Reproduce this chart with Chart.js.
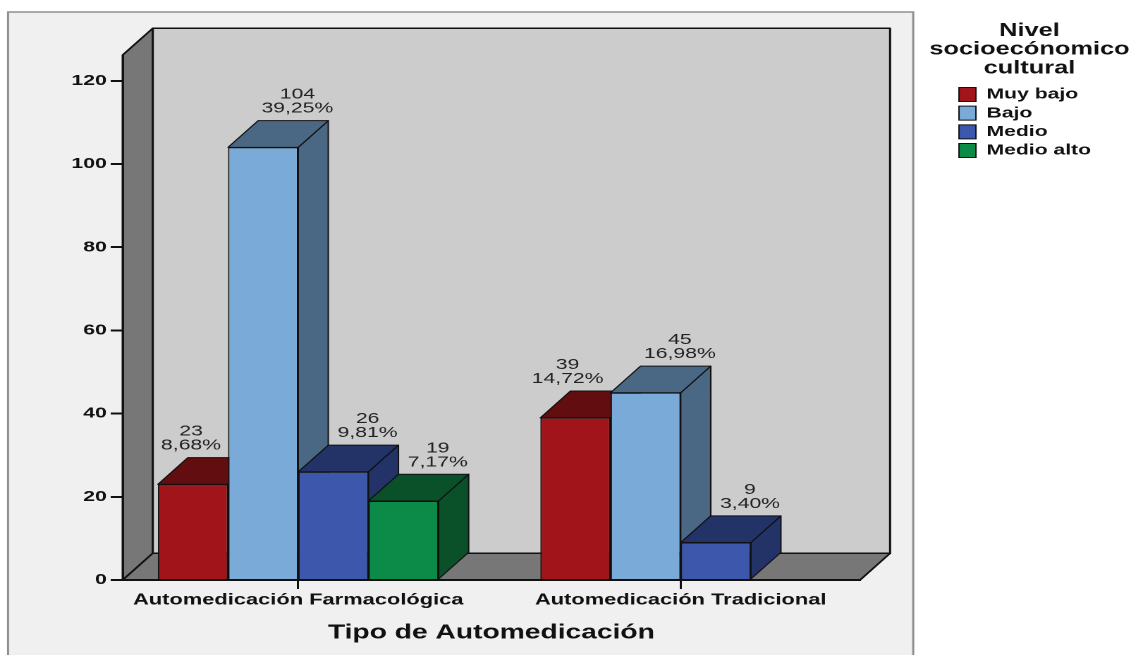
<!DOCTYPE html>
<html>
<head>
<meta charset="utf-8">
<script src="https://cdn.jsdelivr.net/npm/chart.js@4.4.1/dist/chart.umd.min.js"></script>
<style>
html,body{margin:0;padding:0;background:#fff;overflow:hidden;}
#wrap{position:absolute;left:0;top:0;width:802px;height:655px;transform:scaleX(1.41022);transform-origin:0 0;}
</style>
</head>
<body>
<div id="wrap"><canvas id="c"></canvas></div>
<script>
// ---- data ----
const categories = ['Automedicación Farmacológica', 'Automedicación Tradicional'];
const seriesNames = ['Muy bajo', 'Bajo', 'Medio', 'Medio alto'];
const muyBajo = [23, 39];
const bajo = [104, 45];
const medio = [26, 9];
const medioAlto = [19, null];
const yTicks = [0, 20, 40, 60, 80, 100, 120];
const legendTitle = ['Nivel', 'socioecónomico', 'cultural'];
const xTitle = 'Tipo de Automedicación';

// ---- style ----
const frontColors = ['#a11419', '#7aaad8', '#3d57ad', '#0c8a47'];
const sideColors = ['#620d10', '#4a6884', '#233368', '#0a5129'];
const DX = 21.3, DY = 26.7;
const FONT = "'Liberation Sans', Arial, sans-serif";
Chart.defaults.font.family = FONT;
Chart.defaults.color = '#111';

const seriesValues = [muyBajo, bajo, medio, medioAlto];
const total = seriesValues.flat().filter(v => v != null).reduce((s, v) => s + v, 0);
const pct = v => (v / total * 100).toFixed(2).replace('.', ',') + '%';

function poly(ctx, pts, fill) {
  ctx.beginPath();
  ctx.moveTo(pts[0][0], pts[0][1]);
  for (let k = 1; k < pts.length; k++) ctx.lineTo(pts[k][0], pts[k][1]);
  ctx.closePath();
  ctx.fillStyle = fill;
  ctx.fill();
  ctx.stroke();
}

const threeD = {
  id: 'threeD',
  afterLayout(chart) {
    const lg = chart.legend;
    if (lg && !lg._noClip) {
      lg.draw = function () { if (this.options.display) this._draw(); };
      lg._noClip = true;
    }
  },
  beforeDraw(chart) {
    const {ctx, chartArea: a} = chart;
    ctx.save();
    const pl = a.left - 81.3, pr = a.right + 37.7, pt = a.top - 43;
    ctx.fillStyle = '#f0f0f0';
    ctx.fillRect(pl, pt, pr - pl, chart.height - pt + 10);
    ctx.strokeStyle = '#8f8f8f';
    ctx.lineWidth = 1.5;
    ctx.strokeRect(pl, pt, pr - pl, chart.height - pt + 10);
    ctx.lineJoin = 'round';
    ctx.strokeStyle = '#111';
    ctx.lineWidth = 1.5;
    poly(ctx, [[a.left + DX, a.top - DY], [a.right + DX, a.top - DY], [a.right + DX, a.bottom - DY], [a.left + DX, a.bottom - DY]], '#cccccc');
    poly(ctx, [[a.left, a.bottom], [a.left, a.top], [a.left + DX, a.top - DY], [a.left + DX, a.bottom - DY]], '#777777');
    poly(ctx, [[a.left, a.bottom], [a.left + DX, a.bottom - DY], [a.right + DX, a.bottom - DY], [a.right, a.bottom]], '#777777');
    ctx.restore();
  },
  beforeDatasetsDraw(chart) {
    const {ctx} = chart;
    const bars = [];
    chart.data.datasets.forEach((ds, i) => {
      const meta = chart.getDatasetMeta(i);
      if (meta.hidden) return;
      meta.data.forEach((el, j) => {
        const v = ds.data[j] && ds.data[j].y;
        if (v == null) return;
        bars.push({p: el.getProps(['x', 'y', 'base', 'width'], true), i});
      });
    });
    bars.sort((m, n) => m.p.x - n.p.x);
    ctx.save();
    ctx.strokeStyle = '#111';
    ctx.lineWidth = 1;
    ctx.lineJoin = 'round';
    for (const b of bars) {
      const {x, y, base, width} = b.p;
      const l = x - width / 2, r = x + width / 2;
      poly(ctx, [[r, y], [r + DX, y - DY], [r + DX, base - DY], [r, base]], sideColors[b.i]);
      poly(ctx, [[l, y], [l + DX, y - DY], [r + DX, y - DY], [r, y]], sideColors[b.i]);
    }
    ctx.restore();
  },
  afterDatasetsDraw(chart) {
    const {ctx} = chart;
    ctx.save();
    ctx.font = '15px ' + FONT;
    ctx.fillStyle = '#222';
    ctx.textAlign = 'center';
    ctx.textBaseline = 'alphabetic';
    chart.data.datasets.forEach((ds, i) => {
      const meta = chart.getDatasetMeta(i);
      meta.data.forEach((el, j) => {
        const v = ds.data[j] && ds.data[j].y;
        if (v == null) return;
        const p = el.getProps(['x', 'y', 'width'], true);
        const lines = [String(v), pct(v)];
        const w = Math.max(...lines.map(t => ctx.measureText(t).width));
        const b2 = p.y - DY - 8;
        const b1 = b2 - 14;
        let cx = p.x + DX + 3;
        const nds = chart.data.datasets[i + 1];
        if (nds && nds.data[j] && nds.data[j].y != null) {
          const np = chart.getDatasetMeta(i + 1).data[j].getProps(['x', 'y', 'width'], true);
          if (np.y - DY < b2) {
            const limit = np.x - np.width / 2 - 5;
            if (cx + w / 2 > limit) cx = limit - w / 2;
          }
        }
        ctx.fillText(lines[0], cx, b1);
        ctx.fillText(lines[1], cx, b2);
      });
    });
    ctx.restore();
  }
};

const datasets = seriesNames.map((name, i) => ({
  label: name,
  data: seriesValues[i].map((v, j) => ({x: j, y: v})),
  backgroundColor: frontColors[i],
  borderColor: '#111',
  borderWidth: 1
}));

new Chart(document.getElementById('c'), {
  type: 'bar',
  data: {datasets},
  plugins: [threeD],
  options: {
    responsive: true,
    maintainAspectRatio: false,
    animation: false,
    devicePixelRatio: 2,
    layout: {padding: {left: 40, top: 12, right: 18.3, bottom: 10}},
    datasets: {bar: {categoryPercentage: 0.734, barPercentage: 1}},
    plugins: {
      tooltip: {enabled: false},
      legend: {
        position: 'right',
        align: 'start',
        title: {display: true, text: legendTitle, color: '#111', font: {size: 18, weight: 'bold', lineHeight: 1.04}, padding: {top: 10, bottom: 42.6}},
        labels: {boxWidth: 12, boxHeight: 14, padding: 3.67, color: '#111', font: {size: 15, weight: 'bold'}}
      }
    },
    scales: {
      x: {
        type: 'linear', position: 'bottom', min: -0.459, max: 1.469,
        offset: false, bounds: 'data',
        afterBuildTicks: s => { s.ticks = categories.map((c, k) => ({value: k})); },
        ticks: {callback: v => categories[v] ?? '', font: {size: 15.5, weight: 'bold'}, color: '#111', padding: 2, autoSkip: false, maxRotation: 0},
        grid: {offset: false, drawOnChartArea: false, drawTicks: true, tickLength: 9, color: '#111', lineWidth: 1.5},
        border: {display: true, color: '#111', width: 2},
        title: {display: true, text: xTitle, font: {size: 20, weight: 'bold'}, color: '#111', padding: {top: 0, bottom: 0}},
        afterFit: s => { s.height = 65; }
      },
      y: {
        min: 0, max: 126.2,
        afterBuildTicks: s => { s.ticks = yTicks.map(v => ({value: v})); },
        ticks: {font: {size: 15, weight: 'bold'}, color: '#111', padding: 2.8},
        grid: {drawOnChartArea: false, drawTicks: true, tickLength: 8.5, color: '#111', lineWidth: 2},
        border: {display: true, color: '#111', width: 1.5},
        afterFit: s => { s.width = 47; }
      },
      padTop: {type: 'linear', position: 'top', display: true, ticks: {display: false}, grid: {display: false}, border: {display: false}, afterFit: s => { s.height = 43; }},
      padRight: {type: 'linear', position: 'right', display: true, ticks: {display: false}, grid: {display: false}, border: {display: false}, afterFit: s => { s.width = 66.5; }}
    }
  }
});
</script>
</body>
</html>
